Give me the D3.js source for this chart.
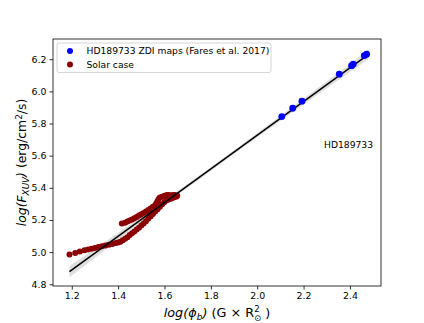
<!DOCTYPE html>
<html>
<head>
<meta charset="utf-8">
<script src="https://cdn.jsdelivr.net/npm/d3@7"></script>
<style>
  body { margin: 0; background: #fff; }
  text { font-family: "DejaVu Sans", sans-serif; fill: #000; }
</style>
</head>
<body>
<div id="chart"></div>
<script>
// HD189733 ZDI maps
const hdX = [2.106, 2.153, 2.193, 2.354, 2.407, 2.414, 2.462, 2.472];
const hdY = [5.843, 5.895, 5.939, 6.107, 6.160, 6.169, 6.223, 6.231];

// solar cycle path (rise branch then decay branch)
const solarX = [1.19, 1.215, 1.235, 1.255, 1.27, 1.285, 1.30, 1.315, 1.33, 1.345, 1.36, 1.375, 1.39, 1.40, 1.41,
  1.42, 1.43, 1.44, 1.45, 1.46, 1.47, 1.48, 1.49, 1.50, 1.51, 1.52, 1.53, 1.54, 1.55, 1.56, 1.57, 1.58, 1.59,
  1.60, 1.61, 1.62, 1.63, 1.64, 1.65,
  1.655, 1.645, 1.635, 1.62, 1.61, 1.60, 1.59, 1.58, 1.575, 1.57, 1.565, 1.56, 1.55, 1.54, 1.53, 1.52, 1.51,
  1.50, 1.49, 1.48, 1.47, 1.46, 1.45, 1.44, 1.43, 1.416];
const solarY = [4.985, 4.995, 5.003, 5.011, 5.016, 5.021, 5.026, 5.031, 5.036, 5.041, 5.046, 5.051, 5.056, 5.060, 5.065,
  5.073, 5.083, 5.093, 5.106, 5.117, 5.128, 5.141, 5.152, 5.166, 5.178, 5.192, 5.207, 5.222, 5.237, 5.252, 5.267, 5.282, 5.297,
  5.311, 5.322, 5.329, 5.334, 5.339, 5.344,
  5.350, 5.355, 5.356, 5.356, 5.355, 5.350, 5.345, 5.340, 5.331, 5.318, 5.304, 5.293, 5.282, 5.272, 5.262, 5.252, 5.243,
  5.236, 5.227, 5.218, 5.211, 5.203, 5.197, 5.191, 5.183, 5.178];

// linear fit and its confidence band
const fitX = [1.19, 2.48];
const fitY = [4.878, 6.230];
const bandX = [1.19, 1.4, 1.6, 1.8, 2.0, 2.2, 2.4, 2.48];
const bandLow = [4.843, 5.076, 5.294, 5.505, 5.714, 5.919, 6.121, 6.200];
const bandHigh = [4.913, 5.120, 5.322, 5.529, 5.740, 5.955, 6.171, 6.260];

const xTicks = [1.2, 1.4, 1.6, 1.8, 2.0, 2.2, 2.4];
const yTicks = [4.8, 5.0, 5.2, 5.4, 5.6, 5.8, 6.0, 6.2];

const W = 424, H = 323;
const margin = {top: 39, right: 43, bottom: 37, left: 53};
const width = W - margin.left - margin.right;
const height = H - margin.top - margin.bottom;

const svg = d3.select("#chart").append("svg")
    .attr("width", W)
    .attr("height", H);

const g = svg.append("g")
    .attr("transform", "translate(" + margin.left + "," + margin.top + ")");

const x = d3.scaleLinear().domain([1.119, 2.534]).range([0, width]);
const y = d3.scaleLinear().domain([4.789, 6.326]).range([height, 0]);

// confidence band
const area = d3.area()
    .x((d, i) => x(bandX[i]))
    .y0((d, i) => y(bandLow[i]))
    .y1((d, i) => y(bandHigh[i]))
    .curve(d3.curveMonotoneX);
g.append("path")
    .datum(bandX)
    .attr("d", area)
    .attr("fill", "#d3d3d3")
    .attr("fill-opacity", 0.75);

// solar case
g.selectAll(".solar")
    .data(solarX)
    .enter().append("circle")
    .attr("class", "solar")
    .attr("cx", (d, i) => x(solarX[i]))
    .attr("cy", (d, i) => y(solarY[i]))
    .attr("r", 3)
    .attr("fill", "#8b0000");

// fit line
g.append("line")
    .attr("x1", x(fitX[0])).attr("y1", y(fitY[0]))
    .attr("x2", x(fitX[1])).attr("y2", y(fitY[1]))
    .attr("stroke", "#000")
    .attr("stroke-width", 1.5);

// HD189733 points
g.selectAll(".hd")
    .data(hdX)
    .enter().append("circle")
    .attr("class", "hd")
    .attr("cx", (d, i) => x(hdX[i]))
    .attr("cy", (d, i) => y(hdY[i]))
    .attr("r", 3.4)
    .attr("fill", "#0000ff");

// axes
const xAxis = g.append("g")
    .attr("transform", "translate(0," + height + ")")
    .call(d3.axisBottom(x).tickValues(xTicks).tickFormat(d3.format(".1f")).tickSizeOuter(0).tickSize(3.5).tickPadding(3));
const yAxis = g.append("g")
    .call(d3.axisLeft(y).tickValues(yTicks).tickFormat(d3.format(".1f")).tickSizeOuter(0).tickSize(3.5).tickPadding(3));
[xAxis, yAxis].forEach(a => {
    a.select(".domain").remove();
    a.selectAll("text").style("font-size", "9.4px").style("font-family", "DejaVu Sans");
    a.selectAll("line").attr("stroke", "#000").attr("stroke-width", 0.8);
});

// frame
g.append("rect")
    .attr("width", width)
    .attr("height", height)
    .attr("fill", "none")
    .attr("stroke", "#000")
    .attr("stroke-width", 0.8);

// annotation
g.append("text")
    .attr("x", x(2.288))
    .attr("y", y(5.645))
    .style("font-size", "9.2px")
    .text("HD189733");

// legend
const leg = g.append("g").attr("transform", "translate(4,4)");
leg.append("rect")
    .attr("width", 214)
    .attr("height", 29.5)
    .attr("rx", 2)
    .attr("fill", "#fff")
    .attr("fill-opacity", 0.8)
    .attr("stroke", "#cccccc")
    .attr("stroke-width", 0.8);
const legItems = [
    {label: "HD189733 ZDI maps (Fares et al. 2017)", color: "#0000ff"},
    {label: "Solar case", color: "#8b0000"}
];
legItems.forEach((d, i) => {
    leg.append("circle")
        .attr("cx", 13)
        .attr("cy", 8 + i * 13.6)
        .attr("r", 3)
        .attr("fill", d.color);
    leg.append("text")
        .attr("x", 29.5)
        .attr("y", 8 + i * 13.6)
        .attr("dy", "0.35em")
        .style("font-size", "9.2px")
        .text(d.label);
});

// x label
const xl = svg.append("text")
    .attr("x", margin.left + width / 2)
    .attr("y", 317)
    .style("text-anchor", "middle")
    .style("font-size", "12.8px");
xl.append("tspan").style("font-style", "italic").text("log(");
xl.append("tspan").style("font-style", "italic").text("ϕ");
xl.append("tspan").style("font-style", "italic").style("font-size", "9px").attr("dy", 2.5).text("b");
xl.append("tspan").style("font-style", "italic").attr("dy", -2.5).text(")");
xl.append("tspan").text(" (G × R");
xl.append("tspan").style("font-size", "8.5px").attr("dy", -5).text("2");
xl.append("tspan").style("font-size", "8.5px").attr("dx", -5.5).attr("dy", 9).text("⊙");
xl.append("tspan").attr("dy", -4).text(" )");

// y label
const yl = svg.append("text")
    .attr("transform", "translate(26," + (margin.top + height / 2) + ") rotate(-90)")
    .style("text-anchor", "middle")
    .style("font-size", "12.4px");
yl.append("tspan").style("font-style", "italic").text("log(F");
yl.append("tspan").style("font-style", "italic").style("font-size", "8.8px").attr("dy", 2.5).text("XUV");
yl.append("tspan").style("font-style", "italic").attr("dy", -2.5).text(")");
yl.append("tspan").text(" (erg/cm");
yl.append("tspan").style("font-size", "8.8px").attr("dy", -4.5).text("2");
yl.append("tspan").attr("dy", 4.5).text("/s)");
</script>
</body>
</html>
